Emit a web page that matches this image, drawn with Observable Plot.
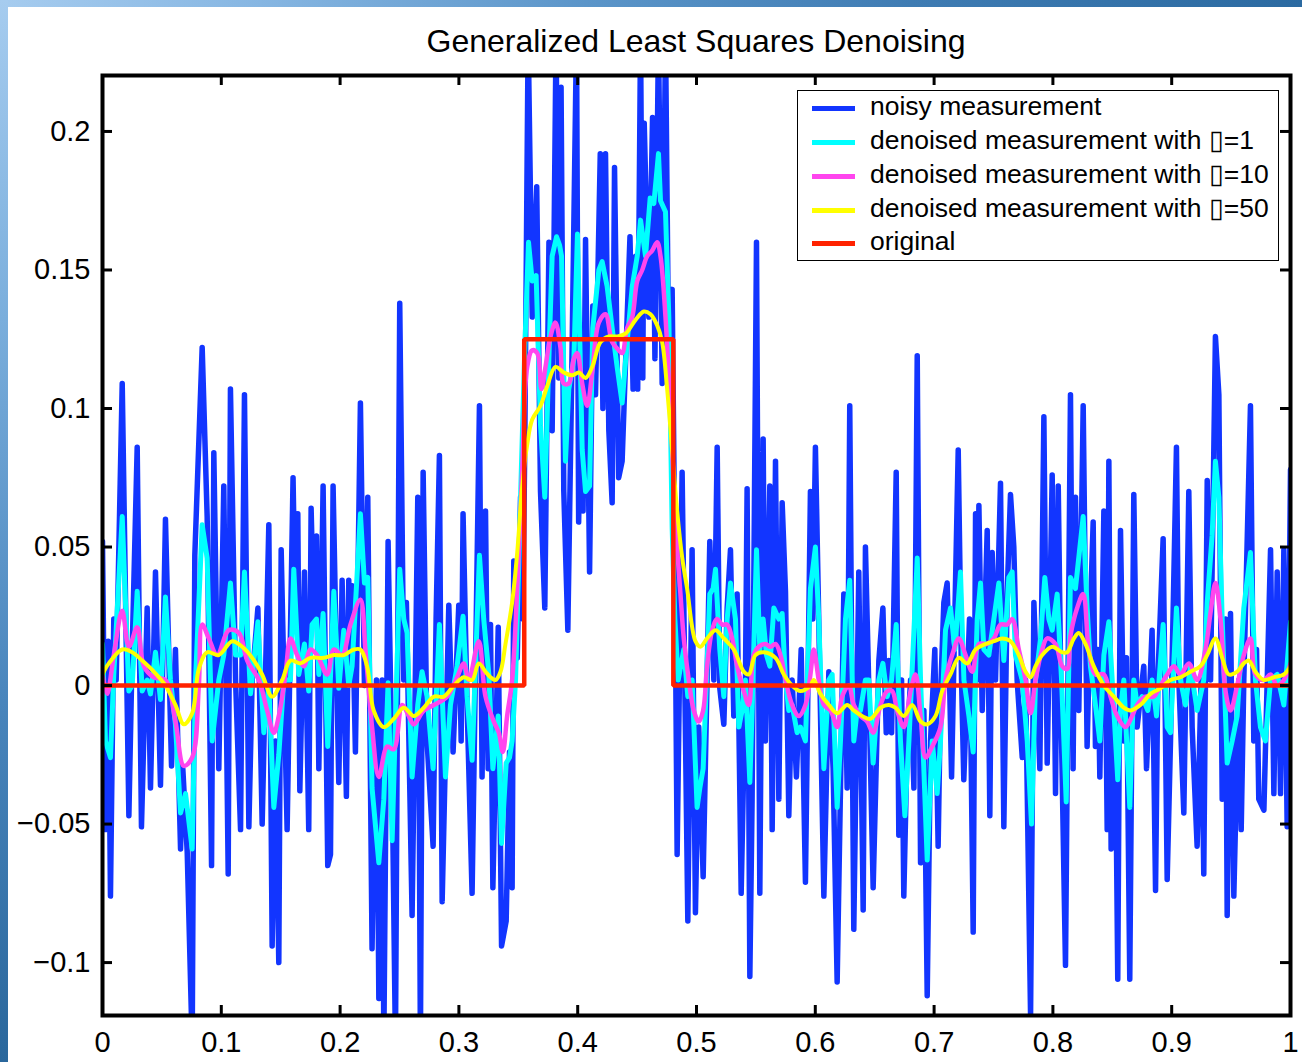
<!DOCTYPE html>
<html><head><meta charset="utf-8">
<script src="https://cdn.jsdelivr.net/npm/d3@7"></script>
<script src="https://cdn.jsdelivr.net/npm/@observablehq/plot@0.6"></script>
<style>
html,body{margin:0;padding:0;background:#fff;}
#wrap{position:relative;width:1302px;height:1062px;overflow:hidden;background:#fff;font-family:"Liberation Sans",Arial,Helvetica,sans-serif;color:#000;}
#topstrip{position:absolute;left:0;top:0;width:1302px;height:7px;background:linear-gradient(90deg,#a6ccef 0%,#86b6e2 20%,#5b95c9 45%,#3f7cb3 70%,#2b6aa1 100%);}
#leftstrip{position:absolute;left:0;top:0;width:8px;height:1062px;background:linear-gradient(180deg,#a6ccef 0%,#7aaedc 30%,#4a86bd 65%,#2a679c 100%);}
#title{position:absolute;left:102px;top:25px;width:1188px;text-align:center;font-size:32px;line-height:32px;white-space:nowrap;}
#chart{position:absolute;left:0;top:62px;}
#legend{position:absolute;left:797px;top:90px;width:482px;height:171px;box-sizing:border-box;border:1.5px solid #000;background:#fff;}
.sw{position:absolute;left:14px;width:43px;height:5px;}
.lt{position:absolute;left:72px;font-size:26.5px;line-height:26.5px;white-space:nowrap;}
</style></head>
<body><div id="wrap"><div id="topstrip"></div><div id="leftstrip"></div><div id="title"></div><div id="chart"></div><div id="legend"></div></div>
<script>
const titleText = "Generalized Least Squares Denoising";
const xTicks = [0,0.1,0.2,0.3,0.4,0.5,0.6,0.7,0.8,0.9,1];
const xTickLabels = ["0","0.1","0.2","0.3","0.4","0.5","0.6","0.7","0.8","0.9","1"];
const yTicks = [-0.1,-0.05,0,0.05,0.1,0.15,0.2];
const yTickLabels = ["\u22120.1","\u22120.05","0","0.05","0.1","0.15","0.2"];
const seriesNames = ["noisy measurement","denoised measurement with \u25AF=1","denoised measurement with \u25AF=10","denoised measurement with \u25AF=50","original"];
const seriesColors = ["#1235ff","#00ffff","#ff45ee","#ffff00","#ff2200"];

const noisy = [
[0.000,0.052],[0.0025,-0.052],[0.0048,0.016],[0.0067,-0.076],[0.0095,0.024],[0.0115,0.002],[0.0166,0.109],[0.0222,-0.047],[0.0250,0.013],[0.0292,0.086],[0.0328,-0.051],[0.0376,0.028],[0.0404,-0.037],[0.0446,0.041],[0.0488,-0.036],[0.0530,0.060],[0.0581,-0.029],[0.0614,0.013],[0.0657,-0.059],[0.0676,-0.030],[0.0713,-0.060],[0.0755,-0.130],[0.0777,0.047],[0.0839,0.122],[0.0881,0.061],[0.0918,-0.065],[0.0937,0.084],[0.0979,-0.030],[0.1021,0.072],[0.1058,-0.068],[0.1077,0.107],[0.1120,0.002],[0.1162,-0.052],[0.1195,0.105],[0.1232,-0.051],[0.1260,0.002],[0.1308,0.028],[0.1344,-0.050],[0.1400,0.058],[0.1428,-0.094],[0.1456,-0.020],[0.1484,-0.100],[0.1504,0.049],[0.1554,-0.052],
[0.1604,0.075],[0.1624,0.024],[0.1644,0.062],[0.1661,-0.038],[0.1700,0.041],[0.1736,-0.052],[0.1756,0.064],[0.1778,0.024],[0.1801,0.054],[0.1821,-0.030],[0.1857,0.072],[0.1896,-0.065],[0.1919,-0.061],[0.1941,0.072],[0.1989,-0.035],[0.2017,0.038],[0.2053,-0.040],[0.2073,0.038],[0.2087,0.005],[0.2101,0.036],[0.2129,-0.024],[0.2171,0.102],[0.2205,0.000],[0.2233,0.068],[0.2269,-0.095],[0.2306,0.002],[0.2326,-0.113],[0.2354,0.002],[0.2368,-0.130],[0.2404,0.052],[0.2438,-0.033],[0.2466,-0.130],[0.2502,0.138],[0.2536,0.002],[0.2558,0.030],[0.2606,-0.083],[0.2654,0.068],[0.2676,-0.130],[0.2699,0.077],[0.2732,-0.020],[0.2783,-0.058],[0.2808,0.024],[0.2836,0.083],[0.2859,-0.078],[0.2915,0.029],[0.2951,-0.024],[0.2999,0.029],[0.3019,-0.020],[0.3035,0.062],[0.3069,-0.007],[0.3111,-0.075],[0.3173,0.101],[0.3195,-0.033],
[0.3224,0.063],[0.3246,-0.030],[0.3266,0.022],[0.3286,-0.073],[0.3331,0.021],[0.3359,-0.094],[0.3398,-0.085],[0.3426,-0.024],[0.3448,-0.073],[0.3462,0.045],[0.3491,0.010],[0.3519,0.068],[0.3538,0.024],[0.3555,0.089],[0.3583,0.235],[0.3617,0.133],[0.3655,0.180],[0.3687,0.070],[0.3723,0.028],[0.3758,0.160],[0.3785,0.092],[0.3818,0.235],[0.3841,0.111],[0.3860,0.216],[0.3883,0.070],[0.3917,0.020],[0.3948,0.107],[0.3990,0.235],[0.4008,0.059],[0.4028,0.110],[0.4045,0.063],[0.4066,0.161],[0.4100,0.041],[0.4127,0.137],[0.4150,0.105],[0.4190,0.192],[0.4212,0.100],[0.4234,0.192],[0.4262,0.092],[0.4290,0.066],[0.4310,0.187],[0.4345,0.075],[0.4374,0.081],[0.4440,0.162],[0.4466,0.107],[0.4488,0.155],[0.4505,0.107],[0.4529,0.235],[0.4548,0.111],[0.4560,0.203],[0.4599,0.133],[0.4630,0.205],[0.4650,0.118],[0.4680,0.235],[0.4711,0.109],[0.4739,0.235],[0.4767,0.111],[0.4795,0.143],[0.4818,0.046],[0.4837,-0.061],
[0.4879,0.077],[0.4927,-0.085],[0.4963,0.049],[0.4991,-0.082],[0.5019,-0.015],[0.5056,-0.069],[0.5112,0.052],[0.5146,0.002],[0.5174,0.086],[0.5196,-0.001],[0.5230,-0.014],[0.5258,0.028],[0.5286,0.049],[0.5314,-0.011],[0.5342,0.033],[0.5376,-0.075],[0.5412,0.002],[0.5426,0.071],[0.5449,-0.105],[0.5468,-0.041],[0.5505,0.160],[0.5533,-0.075],[0.5561,0.089],[0.5580,-0.020],[0.5617,0.072],[0.5637,-0.052],[0.5665,0.081],[0.5693,-0.041],[0.5721,0.066],[0.5749,0.034],[0.5777,-0.047],[0.5805,0.002],[0.5841,-0.033],[0.5881,0.013],[0.5917,-0.071],[0.5959,0.070],[0.5979,0.024],[0.6001,0.086],[0.6029,0.024],[0.6072,-0.076],[0.6114,0.005],[0.6150,-0.030],[0.6184,-0.107],[0.6240,0.033],[0.6268,-0.037],[0.6290,0.101],[0.6324,-0.088],[0.6366,0.041],[0.6403,-0.081],[0.6422,0.050],[0.6450,0.000],[0.6487,-0.073],
[0.6535,0.009],[0.6569,0.028],[0.6597,-0.017],[0.6619,0.009],[0.6642,-0.017],[0.6681,0.077],[0.6703,-0.054],[0.6726,0.002],[0.6745,-0.076],[0.6774,-0.020],[0.6802,0.002],[0.6830,-0.037],[0.6858,0.119],[0.6886,-0.064],[0.6914,-0.009],[0.6942,-0.112],[0.6970,-0.020],[0.7006,0.013],[0.7034,-0.058],[0.7054,-0.004],[0.7082,0.030],[0.7110,0.037],[0.7130,0.002],[0.7147,-0.033],[0.7203,0.085],[0.7231,0.002],[0.7250,-0.034],[0.7298,0.024],[0.7329,-0.089],[0.7349,0.062],[0.7363,0.002],[0.7377,0.065],[0.7405,-0.009],[0.7447,0.056],[0.7469,-0.047],[0.7489,0.048],[0.7517,0.002],[0.7559,0.073],[0.7587,-0.051],[0.7615,0.033],[0.7643,0.069],[0.7671,0.050],[0.7699,0.002],[0.7742,-0.026],[0.7770,0.002],[0.7812,-0.119],[0.7840,0.030],[0.7890,-0.030],[0.7924,0.097],[0.7952,-0.028],[0.7994,0.076],[0.8022,-0.039],[0.8045,0.072],[0.8073,-0.020],[0.8106,-0.101],
[0.8148,0.105],[0.8170,-0.030],[0.8190,0.068],[0.8218,-0.009],[0.8255,0.101],[0.8288,-0.022],[0.8316,0.028],[0.8339,0.059],[0.8358,-0.022],[0.8378,0.013],[0.8395,-0.033],[0.8429,0.063],[0.8457,-0.052],[0.8471,0.081],[0.8490,-0.059],[0.8527,-0.020],[0.8546,-0.106],[0.8569,0.056],[0.8597,-0.020],[0.8619,0.010],[0.8647,-0.106],[0.8681,0.069],[0.8709,-0.015],[0.8765,0.007],[0.8788,-0.030],[0.8835,0.020],[0.8864,-0.074],[0.8883,0.002],[0.8928,0.053],[0.8962,-0.070],[0.8990,-0.020],[0.9040,0.086],[0.9060,0.002],[0.9102,-0.046],[0.9144,0.070],[0.9172,-0.015],[0.9214,-0.058],[0.9248,0.002],[0.9270,-0.068],[0.9299,0.074],[0.9327,0.002],[0.9368,0.126],[0.9397,0.105],[0.9425,-0.041],[0.9453,0.024],[0.9467,-0.083],[0.9495,0.026],[0.9523,-0.076],[0.9565,0.002],[0.9585,-0.052],[0.9607,0.002],[0.9663,0.101],[0.9691,-0.020],[0.9714,0.013],[0.9733,-0.041],[0.9776,-0.045],[0.9804,0.002],[0.9832,0.049],[0.9860,-0.039],[0.9888,0.041],[0.9916,-0.039],[0.9944,0.049],[0.9972,-0.051],[1.000,0.078]
];

const denoised1 = [
[0.000,0.015],[0.0025,-0.020],[0.0067,-0.026],[0.0095,0.004],[0.0166,0.061],[0.0222,-0.002],[0.0250,0.000],[0.0292,0.034],[0.0334,-0.002],[0.0376,0.002],[0.0404,-0.003],[0.0446,0.012],[0.0488,-0.005],[0.0530,0.032],[0.0572,0.002],[0.0614,-0.014],[0.0657,-0.046],[0.0699,-0.039],[0.0755,-0.059],[0.0783,0.002],[0.0839,0.058],[0.0881,0.046],[0.0923,-0.020],[0.0979,0.002],[0.1021,0.011],[0.1077,0.037],[0.1120,0.011],[0.1162,0.011],[0.1195,0.041],[0.1246,-0.003],[0.1308,0.023],[0.1358,-0.017],[0.1400,0.000],[0.1442,-0.044],[0.1484,-0.025],[0.1526,0.002],
[0.1582,0.002],[0.1610,0.042],[0.1652,0.004],[0.1700,0.015],[0.1736,-0.002],[0.1764,0.022],[0.1801,0.024],[0.1821,0.004],[0.1857,0.026],[0.1896,-0.022],[0.1947,0.034],[0.1989,-0.001],[0.2031,0.020],[0.2073,0.000],[0.2101,0.007],[0.2171,0.062],[0.2205,0.037],[0.2233,0.039],[0.2269,-0.037],[0.2326,-0.064],[0.2368,-0.041],[0.2404,0.001],[0.2438,-0.056],[0.2502,0.042],[0.2536,0.024],[0.2564,0.019],[0.2606,-0.033],[0.2654,-0.007],[0.2690,0.005],[0.2732,-0.004],[0.2783,-0.030],[0.2836,0.022],[0.2887,-0.033],[0.2929,-0.007],[0.2985,0.007],[0.3035,0.025],[0.3069,-0.004],[0.3111,-0.027],[0.3173,0.047],[0.3209,0.024],
[0.3252,0.004],[0.3286,-0.030],[0.3331,-0.011],[0.3359,-0.057],[0.3398,-0.028],[0.3426,-0.026],[0.3448,-0.020],[0.3477,0.002],[0.3519,0.068],[0.3555,0.122],[0.3586,0.160],[0.3617,0.146],[0.3650,0.148],[0.3687,0.094],[0.3723,0.068],[0.3763,0.126],[0.3785,0.155],[0.3822,0.162],[0.3847,0.159],[0.3864,0.155],[0.3897,0.081],[0.3925,0.107],[0.3968,0.118],[0.3998,0.163],[0.4038,0.085],[0.4066,0.070],[0.4100,0.072],[0.4127,0.129],[0.4178,0.150],[0.4206,0.153],[0.4248,0.144],[0.4290,0.129],[0.4332,0.115],[0.4374,0.102],[0.4416,0.124],[0.4459,0.144],[0.4501,0.155],[0.4529,0.168],[0.4571,0.155],[0.4610,0.176],[0.4641,0.174],[0.4680,0.192],[0.4697,0.175],[0.4739,0.171],[0.4767,0.133],[0.4795,0.057],[0.4818,0.024],[0.4846,0.002],
[0.4893,0.013],[0.4927,-0.004],[0.4963,0.002],[0.5005,-0.044],[0.5028,-0.037],[0.5056,-0.030],[0.5084,0.002],[0.5112,0.033],[0.5140,0.035],[0.5160,0.042],[0.5196,0.013],[0.5230,-0.004],[0.5258,0.024],[0.5286,0.037],[0.5328,0.024],[0.5356,-0.015],[0.5384,-0.009],[0.5412,0.002],[0.5449,-0.035],[0.5468,-0.009],[0.5505,0.049],[0.5533,0.013],[0.5561,0.024],[0.5589,0.011],[0.5617,0.007],[0.5651,0.028],[0.5693,0.024],[0.5721,0.026],[0.5749,0.002],[0.5777,-0.009],[0.5805,-0.007],[0.5847,-0.017],[0.5875,-0.015],[0.5917,-0.020],[0.5959,0.035],[0.6001,0.050],[0.6029,0.024],[0.6072,-0.030],[0.6114,0.002],[0.6142,0.004],[0.6184,-0.044],[0.6212,-0.020],[0.6254,0.024],[0.6290,0.038],[0.6324,-0.020],[0.6352,-0.009],[0.6380,-0.009],[0.6422,0.002],[0.6450,0.002],[0.6487,-0.028],
[0.6535,0.002],[0.6569,0.008],[0.6605,-0.004],[0.6642,0.002],[0.6681,0.022],[0.6717,-0.020],[0.6754,-0.047],[0.6788,-0.020],[0.6821,0.011],[0.6858,0.046],[0.6886,0.002],[0.6942,-0.063],[0.6984,-0.020],[0.7026,-0.039],[0.7054,-0.020],[0.7096,0.020],[0.7138,0.028],[0.7175,0.013],[0.7222,0.041],[0.7251,0.002],[0.7293,-0.011],[0.7329,-0.024],[0.7363,0.024],[0.7391,0.037],[0.7419,0.013],[0.7461,0.011],[0.7545,0.037],[0.7587,0.009],[0.7629,0.039],[0.7657,0.041],[0.7685,0.011],[0.7742,0.002],[0.7784,-0.020],[0.7820,-0.050],[0.7854,0.002],[0.7896,0.017],[0.7932,0.039],[0.7966,0.024],[0.7994,0.020],[0.8036,0.033],[0.8073,0.002],[0.8112,-0.042],
[0.8148,0.039],[0.8190,0.035],[0.8255,0.061],[0.8288,0.028],[0.8316,0.007],[0.8358,-0.007],[0.8395,-0.020],[0.8429,0.011],[0.8471,0.023],[0.8499,0.002],[0.8546,-0.034],[0.8569,-0.009],[0.8597,0.002],[0.8647,-0.044],[0.8681,0.002],[0.8709,-0.007],[0.8751,-0.004],[0.8799,-0.009],[0.8835,0.002],[0.8872,-0.011],[0.8928,0.022],[0.8962,-0.015],[0.8990,-0.017],[0.9040,0.028],[0.9074,0.002],[0.9116,-0.007],[0.9158,0.007],[0.9214,-0.009],[0.9270,0.002],[0.9299,0.030],[0.9340,0.054],[0.9368,0.081],[0.9397,0.068],[0.9425,0.024],[0.9467,-0.028],[0.9509,-0.020],[0.9551,-0.011],[0.9607,0.028],[0.9663,0.048],[0.9705,0.002],[0.9747,-0.015],[0.9789,-0.020],[0.9832,0.002],[0.9888,0.004],[0.9944,-0.007],[1.000,0.023]
];

const denoised10 = [
[0,0.004],[0.0039,-0.003],[0.0095,0.011],[0.0166,0.027],[0.0222,0.014],[0.0292,0.021],[0.0348,0.007],[0.0432,0.003],[0.0530,0.002],[0.0614,-0.013],[0.0685,-0.029],[0.0755,-0.026],[0.0811,0.000],[0.0839,0.022],[0.0895,0.017],[0.0965,0.011],[0.1063,0.020],[0.1148,0.019],[0.1218,0.009],[0.1316,0.002],[0.1386,-0.009],[0.1442,-0.017],[0.1484,-0.011],[0.1540,0.004],
[0.1582,0.017],[0.1638,0.011],[0.1694,0.007],[0.1750,0.013],[0.1806,0.011],[0.1891,0.004],[0.1947,0.013],[0.2017,0.011],[0.2087,0.022],[0.2171,0.031],[0.2213,0.013],[0.2269,-0.015],[0.2326,-0.033],[0.2396,-0.022],[0.2452,-0.023],[0.2522,-0.007],[0.2578,-0.011],[0.2620,-0.014],[0.2704,-0.009],[0.2789,-0.007],[0.2901,-0.004],[0.2985,0.003],[0.3041,0.008],[0.3083,0.002],[0.3167,0.016],
[0.3224,-0.004],[0.3294,-0.013],[0.3336,-0.017],[0.3370,-0.024],[0.3406,-0.011],[0.3448,0.002],[0.3491,0.035],[0.3533,0.078],[0.3575,0.115],[0.3617,0.121],[0.3659,0.120],[0.3695,0.107],[0.3729,0.115],[0.3771,0.126],[0.3813,0.131],[0.3855,0.122],[0.3883,0.109],[0.3925,0.109],[0.3968,0.118],[0.3996,0.120],[0.4038,0.109],[0.4080,0.101],[0.4122,0.113],[0.4178,0.131],[0.4234,0.134],[0.4290,0.124],[0.4346,0.121],[0.4374,0.120],[0.4416,0.129],[0.4459,0.133],[0.4501,0.146],[0.4543,0.150],[0.4585,0.155],[0.4627,0.157],[0.4669,0.160],[0.4697,0.155],[0.4739,0.133],[0.4781,0.098],[0.4823,0.059],[0.4865,0.033],
[0.4893,0.017],[0.4935,0.002],[0.4977,-0.009],[0.5019,-0.013],[0.5056,-0.009],[0.5089,0.007],[0.5132,0.020],[0.5174,0.024],[0.5216,0.022],[0.5258,0.022],[0.5300,0.017],[0.5342,0.007],[0.5398,-0.002],[0.5440,-0.007],[0.5482,0.011],[0.5524,0.014],[0.5580,0.015],[0.5623,0.014],[0.5665,0.015],[0.5707,0.011],[0.5749,0.002],[0.5805,-0.007],[0.5861,-0.011],[0.5917,-0.007],[0.5959,0.004],[0.5987,0.013],[0.6029,0.002],[0.6072,-0.007],[0.6128,-0.009],[0.6184,-0.015],[0.6226,-0.004],[0.6282,0.000],[0.6324,-0.007],[0.6380,-0.011],[0.6436,-0.013],[0.6487,-0.017],
[0.6549,-0.007],[0.6605,-0.002],[0.6647,-0.002],[0.6689,-0.009],[0.6745,-0.015],[0.6802,-0.002],[0.6844,0.004],[0.6886,-0.011],[0.6928,-0.026],[0.6984,-0.022],[0.7054,-0.015],[0.7096,0.002],[0.7152,0.011],[0.7208,0.017],[0.7265,0.011],[0.7321,0.005],[0.7377,0.015],[0.7447,0.015],[0.7503,0.017],[0.7559,0.022],[0.7615,0.022],[0.7657,0.024],[0.7713,0.013],[0.7770,0.002],[0.7812,-0.010],[0.7854,0.002],[0.7910,0.013],[0.7952,0.017],[0.8022,0.015],[0.8078,0.007],[0.8120,0.006],
[0.8148,0.018],[0.8204,0.028],[0.8255,0.033],[0.8302,0.013],[0.8358,0.004],[0.8429,0.004],[0.8485,-0.004],[0.8541,-0.011],[0.8611,-0.015],[0.8667,-0.011],[0.8709,-0.007],[0.8779,-0.004],[0.8849,-0.004],[0.8906,0.000],[0.8962,0.004],[0.9018,0.007],[0.9074,0.004],[0.9144,0.008],[0.9214,0.002],[0.9284,0.013],[0.9326,0.026],[0.9368,0.037],[0.9411,0.024],[0.9453,-0.002],[0.9495,-0.009],[0.9551,0.000],[0.9607,0.011],[0.9663,0.017],[0.9705,0.004],[0.9776,0.002],[0.9832,0.004],[0.9888,0.000],[0.9944,0.002],[1.000,0.008]
];

const denoised50 = [
[0,0.004],[0.0053,0.008],[0.0166,0.013],[0.0250,0.012],[0.0334,0.009],[0.0432,0.005],[0.0530,0.000],[0.0614,-0.007],[0.0685,-0.014],[0.0755,-0.010],[0.0811,0.006],[0.0881,0.012],[0.0979,0.011],[0.1091,0.016],[0.1176,0.014],[0.1260,0.010],[0.1344,0.004],[0.1428,-0.004],[0.1512,0.002],
[0.1582,0.009],[0.1666,0.008],[0.1750,0.010],[0.1863,0.010],[0.1947,0.011],[0.2031,0.011],[0.2115,0.013],[0.2171,0.013],[0.2227,0.007],[0.2283,-0.009],[0.2368,-0.015],[0.2452,-0.012],[0.2536,-0.008],[0.2620,-0.011],[0.2704,-0.008],[0.2789,-0.004],[0.2873,-0.004],[0.2957,0.000],[0.3041,0.003],[0.3111,0.002],[0.3167,0.008],
[0.3224,0.005],[0.3266,0.003],[0.3308,0.002],[0.3350,0.005],[0.3392,0.015],[0.3448,0.030],[0.3491,0.048],[0.3533,0.072],[0.3575,0.087],[0.3617,0.096],[0.3687,0.101],[0.3743,0.108],[0.3813,0.115],[0.3883,0.113],[0.3954,0.112],[0.4010,0.113],[0.4066,0.111],[0.4122,0.115],[0.4192,0.124],[0.4262,0.126],[0.4332,0.126],[0.4402,0.127],[0.4487,0.132],[0.4557,0.135],[0.4613,0.134],[0.4669,0.130],[0.4711,0.124],[0.4753,0.107],[0.4795,0.085],[0.4837,0.063],[0.4880,0.046],
[0.4921,0.035],[0.4991,0.016],[0.5033,0.014],[0.5089,0.017],[0.5160,0.020],[0.5230,0.017],[0.5314,0.013],[0.5398,0.005],[0.5440,0.004],[0.5496,0.011],[0.5566,0.012],[0.5665,0.010],[0.5735,0.004],[0.5805,0.000],[0.5875,-0.002],[0.5959,0.000],[0.5987,0.002],[0.6043,-0.003],[0.6114,-0.007],[0.6184,-0.010],[0.6268,-0.007],[0.6324,-0.009],[0.6394,-0.011],[0.6464,-0.012],
[0.6549,-0.008],[0.6619,-0.007],[0.6675,-0.008],[0.6745,-0.011],[0.6816,-0.007],[0.6886,-0.013],[0.6942,-0.014],[0.7012,-0.011],[0.7068,-0.002],[0.7138,0.004],[0.7208,0.010],[0.7279,0.008],[0.7349,0.013],[0.7433,0.015],[0.7503,0.016],[0.7573,0.017],[0.7643,0.016],[0.7713,0.011],[0.7770,0.005],[0.7812,0.003],[0.7854,0.007],[0.7910,0.011],[0.7994,0.014],[0.8078,0.012],[0.8120,0.012],[0.8177,0.017],
[0.8218,0.019],[0.8274,0.015],[0.8344,0.007],[0.8429,0.000],[0.8513,-0.004],[0.8597,-0.008],[0.8653,-0.009],[0.8737,-0.007],[0.8821,-0.003],[0.8906,-0.001],[0.8990,0.002],[0.9074,0.003],[0.9158,0.005],[0.9242,0.007],[0.9299,0.011],[0.9368,0.017],[0.9425,0.010],[0.9481,0.004],[0.9551,0.005],[0.9607,0.008],[0.9649,0.009],[0.9705,0.005],[0.9776,0.002],[0.9860,0.003],[0.9944,0.004],[1.000,0.007]
];

const originalX = [0, 0.355, 0.355, 0.4805, 0.4805, 1];
const originalY = [0, 0, 0.125, 0.125, 0, 0];
const original = originalX.map((x, i) => [x, originalY[i]]);

document.getElementById("title").textContent = titleText;

const frameW = 1302 - 102 - 12, frameH = 1000 - 13 - 47, tickLen = 10;
const yLabel = new Map(yTicks.map((t, i) => [t, yTickLabels[i]]));
const xLabel = new Map(xTicks.map((t, i) => [t, xTickLabels[i]]));
const X = d => d[0], Y = d => d[1];

const chart = Plot.plot({
  width: 1302, height: 1000,
  marginLeft: 102, marginRight: 12, marginTop: 13, marginBottom: 47,
  x: {domain: [0, 1]},
  y: {domain: [-0.1191, 0.2202]},
  style: {fontFamily: "'Liberation Sans', Arial, Helvetica, sans-serif", fontSize: "29px", color: "#000", background: "transparent"},
  marks: [
    Plot.line(noisy, {x: X, y: Y, stroke: seriesColors[0], strokeWidth: 5.5, clip: true}),
    Plot.line(denoised1, {x: X, y: Y, stroke: seriesColors[1], strokeWidth: 5, clip: true}),
    Plot.line(denoised10, {x: X, y: Y, stroke: seriesColors[2], strokeWidth: 4.5, curve: "catmull-rom", clip: true}),
    Plot.line(denoised50, {x: X, y: Y, stroke: seriesColors[3], strokeWidth: 4, curve: "catmull-rom", clip: true}),
    Plot.line(original, {x: X, y: Y, stroke: seriesColors[4], strokeWidth: 4.5, strokeLinejoin: "miter", clip: true}),
    Plot.tickX(xTicks, {x: d => d, insetTop: frameH - tickLen, stroke: "#000", strokeWidth: 3}),
    Plot.tickX(xTicks, {x: d => d, insetBottom: frameH - tickLen, stroke: "#000", strokeWidth: 3}),
    Plot.tickY(yTicks, {y: d => d, insetRight: frameW - tickLen, stroke: "#000", strokeWidth: 3}),
    Plot.tickY(yTicks, {y: d => d, insetLeft: frameW - tickLen, stroke: "#000", strokeWidth: 3}),
    Plot.frame({stroke: "#000", strokeWidth: 4}),
    Plot.axisY(yTicks, {tickSize: 0, tickPadding: 12, fontSize: 29, tickFormat: d => yLabel.get(d)}),
    Plot.axisX(xTicks, {tickSize: 0, tickPadding: 16, fontSize: 29, tickFormat: d => xLabel.get(d)})
  ]
});
document.getElementById("chart").appendChild(chart);

const legend = document.getElementById("legend");
const rowCenters = [17, 51, 85, 119, 152];
seriesNames.forEach((name, i) => {
  const sw = document.createElement("div");
  sw.className = "sw";
  sw.style.top = (rowCenters[i] - 2.5) + "px";
  sw.style.background = seriesColors[i];
  legend.appendChild(sw);
  const t = document.createElement("div");
  t.className = "lt";
  t.style.top = (rowCenters[i] - 15) + "px";
  t.textContent = name;
  legend.appendChild(t);
});
</script>
</body></html>
